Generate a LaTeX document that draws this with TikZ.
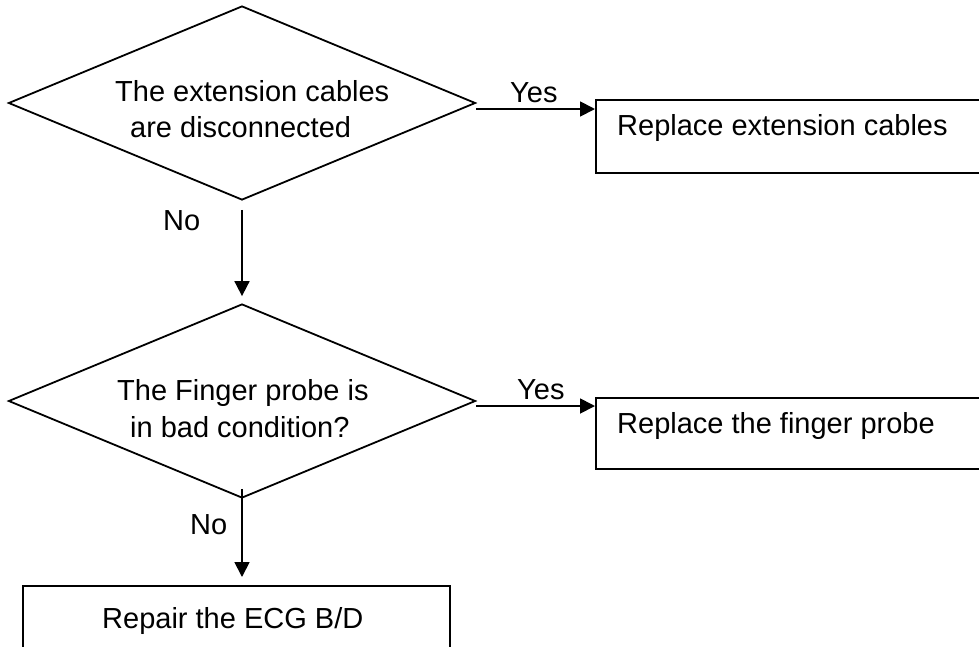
\documentclass[tikz,border=0pt]{standalone}
\usepackage{fontspec}
\setmainfont{Liberation Sans}
\usetikzlibrary{shapes.geometric,arrows.meta}
\begin{document}
\begin{tikzpicture}[x=1pt,y=-1pt,
  every node/.style={font=\fontsize{29}{36}\selectfont, inner sep=0pt},
  dia/.style={diamond, draw, line width=1.8pt, minimum width=467pt, minimum height=194pt},
  boxshape/.style={rectangle, draw, line width=1.8pt, anchor=north west},
  txt/.style={anchor=base west},
  lbl/.style={anchor=base west},
  conn/.style={line width=1.8pt, -{Triangle[length=15pt,width=15pt]}}
]
\clip (0,0) rectangle (979,646);
\useasboundingbox (0,0) rectangle (979,646);

% decisions
\node[dia] (d1) at (242,103) {};
\node[dia] (d2) at (242,401) {};

% boxes
\node[boxshape, minimum width=420pt, minimum height=73pt] (b1) at (595,99) {};
\node[boxshape, minimum width=420pt, minimum height=71pt] (b2) at (595,397) {};
\node[boxshape, minimum width=427pt, minimum height=90pt] (b3) at (22,585) {};

% texts in diamonds
\node[txt] (t1a) at (115,101) {The extension cables};
\node[txt] (t1b) at (130,137) {are disconnected};
\node[txt] (t2a) at (117,400) {The Finger probe is};
\node[txt] (t2b) at (130,437) {in bad condition?};

% texts in boxes
\node[txt] (tb1) at (617,135) {Replace extension cables};
\node[txt] (tb2) at (617,433) {Replace the finger probe};
\node[txt] (tb3) at (102,628) {Repair the ECG B/D};

% connectors
\coordinate (y1) at ([yshift=-6pt]d1.east);
\draw[conn] (y1) -- (y1 -| b1.west);
\coordinate (y2) at ([yshift=-5pt]d2.east);
\draw[conn] (y2) -- (y2 -| b2.west);
\draw[conn, shorten >=7pt] ([yshift=-9pt]d1.south) -- (d2.north);
\draw[conn, shorten >=8pt] ([yshift=10pt]d2.south) -- (b3.north -| d2.south);

% labels
\node[lbl] (yes1) at (510,102) {Yes};
\node[lbl] (yes2) at (517,399) {Yes};
\node[lbl] (no1) at (163,230) {No};
\node[lbl] (no2) at (190,534) {No};
\end{tikzpicture}
\end{document}
